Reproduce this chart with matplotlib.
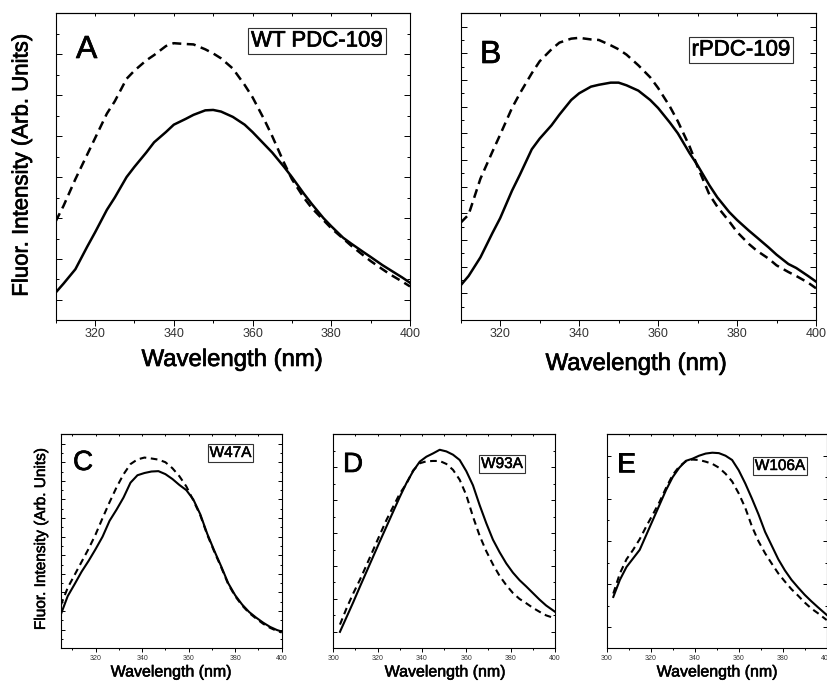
import matplotlib
matplotlib.use("Agg")
import matplotlib.pyplot as plt
import matplotlib.font_manager as fm
import matplotlib.patheffects as pe
from matplotlib.ticker import MultipleLocator, NullFormatter

# ---------------- data ----------------
wl_top = [310, 312, 315, 318, 320, 323, 325, 328, 330, 333, 335, 338, 340, 343, 345, 348,
          350, 352, 355, 358, 360, 363, 365, 368, 370, 373, 375, 378, 380, 383, 385, 388,
          390, 393, 395, 398, 400]
a_solid = [0.18, 0.40, 0.75, 1.30, 1.65, 2.20, 2.50, 3.00, 3.25, 3.60, 3.85, 4.10, 4.28, 4.42,
           4.52, 4.63, 4.64, 4.60, 4.47, 4.28, 4.10, 3.80, 3.60, 3.25, 3.00, 2.60, 2.35, 2.00,
           1.80, 1.52, 1.38, 1.18, 1.05, 0.85, 0.73, 0.55, 0.42]
a_dash = [1.92, 2.30, 2.95, 3.55, 3.95, 4.55, 4.85, 5.40, 5.60, 5.85, 5.98, 6.20, 6.27, 6.25,
          6.24, 6.12, 6.02, 5.90, 5.65, 5.25, 4.95, 4.40, 4.00, 3.35, 2.95, 2.50, 2.25, 1.95,
          1.75, 1.50, 1.33, 1.10, 0.95, 0.75, 0.62, 0.45, 0.33]
b_solid = [1.30, 1.65, 2.35, 3.25, 3.82, 4.85, 5.45, 6.40, 6.80, 7.30, 7.70, 8.25, 8.50, 8.75,
           8.82, 8.90, 8.90, 8.80, 8.60, 8.25, 7.95, 7.40, 7.00, 6.25, 5.80, 5.05, 4.60, 4.05,
           3.75, 3.35, 3.10, 2.72, 2.45, 2.10, 1.95, 1.65, 1.44]
b_dash = [3.65, 3.95, 5.30, 6.30, 6.95, 7.95, 8.50, 9.25, 9.70, 10.15, 10.40, 10.55, 10.58,
          10.52, 10.50, 10.30, 10.15, 9.95, 9.55, 9.10, 8.70, 8.00, 7.45, 6.50, 5.75, 4.70,
          4.25, 3.70, 3.30, 2.85, 2.60, 2.30, 2.05, 1.80, 1.65, 1.40, 1.19]

wl_c = [305, 308, 311, 314, 317, 320, 323, 326, 329, 332, 335, 338, 341, 344, 347, 350, 353,
        356, 359, 362, 365, 368, 371, 374, 377, 380, 383, 386, 389, 392, 395, 398, 400]
c_solid = [1.80, 2.80, 3.45, 4.12, 4.70, 5.33, 6.00, 6.85, 7.45, 8.10, 8.90, 9.30, 9.42, 9.50,
           9.52, 9.36, 9.10, 8.78, 8.50, 8.00, 7.20, 6.15, 5.25, 4.40, 3.50, 2.85, 2.35, 1.95,
           1.65, 1.38, 1.15, 0.98, 0.90]
c_dash = [2.30, 3.25, 3.95, 4.65, 5.35, 6.12, 7.00, 7.85, 8.65, 9.35, 9.90, 10.15, 10.25, 10.20,
          10.14, 10.00, 9.68, 9.25, 8.70, 7.95, 7.15, 6.10, 5.20, 4.35, 3.45, 2.80, 2.30, 1.90,
          1.60, 1.32, 1.10, 0.93, 0.85]

wl_de = [303, 306, 309, 312, 315, 318, 321, 324, 327, 330, 333, 336, 339, 342, 345, 348, 351,
         354, 357, 360, 363, 366, 369, 372, 375, 378, 381, 384, 387, 390, 393, 396, 400]
d_solid = [0.50, 0.95, 1.40, 1.87, 2.33, 2.79, 3.25, 3.70, 4.15, 4.60, 5.02, 5.38, 5.67, 5.82,
           5.92, 6.03, 5.98, 5.88, 5.72, 5.38, 4.95, 4.35, 3.80, 3.30, 2.92, 2.58, 2.30, 2.07,
           1.88, 1.68, 1.48, 1.30, 1.11]
d_dash = [0.72, 1.22, 1.67, 2.08, 2.53, 2.99, 3.45, 3.90, 4.30, 4.70, 5.00, 5.40, 5.62, 5.68,
          5.69, 5.69, 5.60, 5.42, 5.12, 4.65, 4.00, 3.42, 2.95, 2.55, 2.20, 1.92, 1.68, 1.50,
          1.37, 1.23, 1.11, 1.00, 0.91]
e_solid = [1.20, 1.60, 1.90, 2.10, 2.30, 2.65, 3.00, 3.35, 3.70, 4.00, 4.22, 4.38, 4.43, 4.50,
           4.55, 4.57, 4.56, 4.50, 4.40, 4.16, 3.85, 3.50, 3.13, 2.72, 2.40, 2.08, 1.82, 1.60,
           1.42, 1.25, 1.10, 0.96, 0.78]
e_dash = [1.28, 1.75, 2.08, 2.30, 2.55, 2.85, 3.13, 3.42, 3.75, 4.05, 4.25, 4.37, 4.41, 4.40,
          4.36, 4.31, 4.22, 4.08, 3.90, 3.62, 3.28, 2.85, 2.50, 2.22, 1.98, 1.75, 1.56, 1.38,
          1.23, 1.07, 0.93, 0.82, 0.66]

panel_letters = ["A", "B", "C", "D", "E"]
panel_names = ["WT PDC-109", "rPDC-109", "W47A", "W93A", "W106A"]
xlabel = "Wavelength (nm)"
ylabel = "Fluor. Intensity (Arb. Units)"

# ---------------- fonts ----------------
names = {f.name for f in fm.fontManager.ttflist}
BASE = "Liberation Sans" if "Liberation Sans" in names else "DejaVu Sans"
if "Liberation Sans Narrow" in names:
    NARROW, NS = "Liberation Sans Narrow", 1.0
else:
    NARROW, NS = BASE, 0.82
plt.rcParams["font.family"] = [BASE, "DejaVu Sans"]

W, H = 827, 688
fig = plt.figure(figsize=(W / 100, H / 100), dpi=100)


def rect(l, t, r, b):
    return [l / W, 1 - b / H, (r - l) / W, (b - t) / H]


def fx(x):
    return x / W


def fy(y):
    return 1 - y / H


def heavy(w):
    return [pe.withStroke(linewidth=w, foreground="black")]


def style_axes(ax, xlim, ylim, xmaj, ymaj, ymin, tick_fs, big):
    ax.set_xlim(*xlim)
    ax.set_ylim(*ylim)
    ax.set_xticks(xmaj)
    ax.xaxis.set_minor_locator(MultipleLocator(10))
    ax.set_yticks(ymaj)
    ax.set_yticks(ymin, minor=True)
    ax.yaxis.set_major_formatter(NullFormatter())
    for s in ax.spines.values():
        s.set_linewidth(0.8)
    ml, nl = (4, 2.2) if big else (3, 1.6)
    ax.tick_params(axis="x", which="both", direction="out", top=False,
                   labelsize=tick_fs, pad=2, colors="black", labelcolor="#333333")
    ax.tick_params(axis="x", which="major", length=ml, width=0.7)
    ax.tick_params(axis="x", which="minor", length=nl, width=0.7)
    ax.tick_params(axis="y", which="both", direction="in", left=True, right=True,
                   labelleft=False)
    ax.tick_params(axis="y", which="major", length=ml, width=0.7)
    ax.tick_params(axis="y", which="minor", length=nl, width=0.7)
    sec = ax.secondary_xaxis("top")
    sec.set_xticks(list(range(int(xlim[0] // 10 * 10 + 10), int(xlim[1]) + 1, 10)))
    sec.tick_params(axis="x", direction="in", length=nl, width=0.7, labeltop=False)
    sec.spines["top"].set_linewidth(0.8)


# ---------------- top panels ----------------
axA = fig.add_axes(rect(55.7, 13.3, 410, 320))
axA.plot(wl_top, a_solid, color="black", lw=1.8)
axA.plot(wl_top, a_dash, color="black", lw=1.8, dashes=(3.6, 2.2))
style_axes(axA, (310, 400), (-0.49, 7.0), [320, 340, 360, 380, 400],
           [0, 1, 2, 3, 4, 5, 6], [0.5 + i for i in range(7)], 9, True)

axB = fig.add_axes(rect(460.7, 13.3, 816, 320))
axB.plot(wl_top, b_solid, color="black", lw=1.8)
axB.plot(wl_top, b_dash, color="black", lw=1.8, dashes=(3.6, 2.2))
style_axes(axB, (310, 400), (0, 11.5), [320, 340, 360, 380, 400],
           list(range(1, 12)), [0.5 + i for i in range(11)], 9, True)

# ---------------- bottom panels ----------------
axC = fig.add_axes(rect(60.7, 434.3, 281.7, 648.3))
axC.plot(wl_c, c_solid, color="black", lw=1.5)
axC.plot(wl_c, c_dash, color="black", lw=1.5, dashes=(3.2, 2.2))
style_axes(axC, (305, 400), (0, 11.5), [320, 340, 360, 380, 400],
           list(range(1, 12)), [0.5 + i for i in range(11)], 5, False)

axD = fig.add_axes(rect(333.3, 434.3, 555, 648.3))
axD.plot(wl_de, d_solid, color="black", lw=1.5)
axD.plot(wl_de, d_dash, color="black", lw=1.5, dashes=(3.2, 2.2))
style_axes(axD, (300, 400), (0, 6.5), [300, 320, 340, 360, 380, 400],
           [0.5 + i for i in range(6)], [1, 2, 3, 4, 5, 6], 5, False)

axE = fig.add_axes(rect(606.7, 434.3, 826.7, 648.3))
axE.plot(wl_de, e_solid, color="black", lw=1.5)
axE.plot(wl_de, e_dash, color="black", lw=1.5, dashes=(3.2, 2.2))
style_axes(axE, (300, 400), (0, 5.0), [300, 320, 340, 360, 380, 400],
           [0.5 + i for i in range(5)], [1, 2, 3, 4], 5, False)

# ---------------- texts ----------------
big_x = dict(family=NARROW, fontsize=21 * NS, ha="center", va="center",
             path_effects=heavy(0.5))
fig.text(fx(232), fy(360), xlabel, **big_x)
fig.text(fx(636), fy(364), xlabel, **big_x)
fig.text(fx(22), fy(165), ylabel, family=NARROW, fontsize=19.5 * NS,
         rotation=90, ha="center", va="center", path_effects=heavy(0.5))

small_x = dict(family=NARROW, fontsize=14 * NS, ha="center", va="center",
               path_effects=heavy(0.4))
fig.text(fx(171), fy(672), xlabel, **small_x)
fig.text(fx(445), fy(672), xlabel, **small_x)
fig.text(fx(717), fy(672), xlabel, **small_x)
fig.text(fx(41), fy(539), ylabel, family=NARROW, fontsize=13.5 * NS,
         rotation=90, ha="center", va="center", path_effects=heavy(0.4))

# panel letters
for (x, y, s, fs) in [(76, 58, panel_letters[0], 23), (480, 63, panel_letters[1], 23),
                      (73, 470, panel_letters[2], 20), (343, 472, panel_letters[3], 20),
                      (617, 472, panel_letters[4], 20)]:
    fig.text(fx(x), fy(y), s, fontsize=fs, ha="left", va="baseline", family=BASE,
             path_effects=heavy(0.5))

# boxed names
box = dict(boxstyle="square,pad=0.12", facecolor="white", edgecolor="#333333", linewidth=0.8)
for (x, y, s, fs, sw) in [(317, 41, panel_names[0], 19.5, 0.5),
                          (741, 50, panel_names[1], 19.5, 0.5),
                          (230.5, 453, panel_names[2], 13.5, 0.35),
                          (502, 464, panel_names[3], 13.5, 0.35),
                          (780, 466, panel_names[4], 13.5, 0.35)]:
    fig.text(fx(x), fy(y), s, family=NARROW, fontsize=fs * NS, ha="center", va="center",
             bbox=box, path_effects=heavy(sw))

fig.savefig("out.png", dpi=100)
